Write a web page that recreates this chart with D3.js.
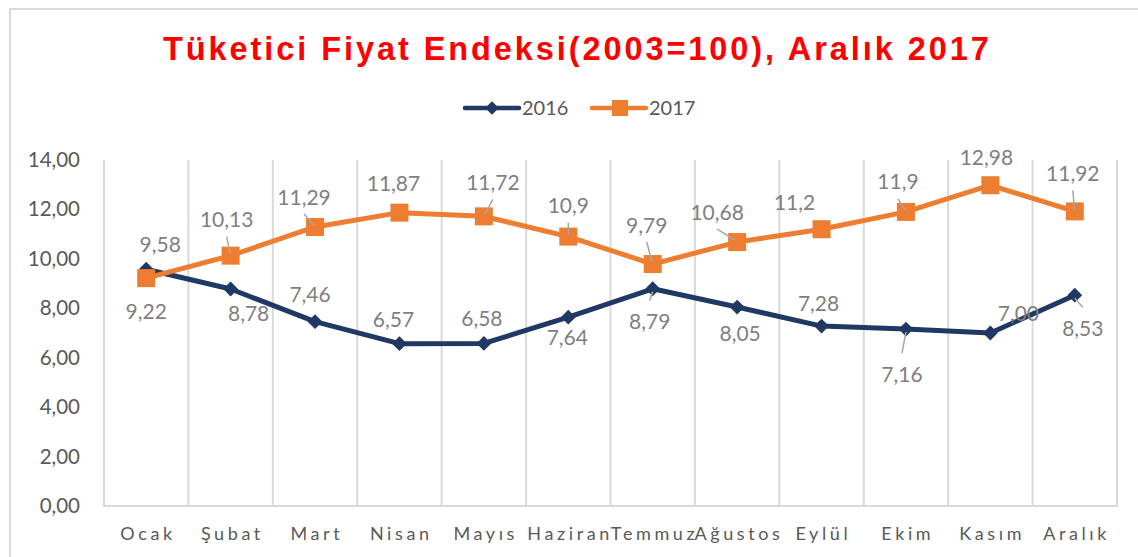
<!DOCTYPE html>
<html>
<head>
<meta charset="utf-8">
<script src="https://cdn.jsdelivr.net/npm/d3@7"></script>
<style>
  html, body { margin: 0; padding: 0; background: #ffffff; }
  svg { display: block; }
</style>
</head>
<body>
<svg id="chart" width="1138" height="557"></svg>
<script>
// ---------------- data ----------------
const months = ["Ocak", "Şubat", "Mart", "Nisan", "Mayıs", "Haziran", "Temmuz", "Ağustos", "Eylül", "Ekim", "Kasım", "Aralık"];
const values2016 = [9.58, 8.78, 7.46, 6.57, 6.58, 7.64, 8.79, 8.05, 7.28, 7.16, 7.00, 8.53];
const values2017 = [9.22, 10.13, 11.29, 11.87, 11.72, 10.9, 9.79, 10.68, 11.2, 11.9, 12.98, 11.92];
const labels2016 = ["9,58", "8,78", "7,46", "6,57", "6,58", "7,64", "8,79", "8,05", "7,28", "7,16", "7,00", "8,53"];
const labels2017 = ["9,22", "10,13", "11,29", "11,87", "11,72", "10,9", "9,79", "10,68", "11,2", "11,9", "12,98", "11,92"];
const yTicks = [0, 2, 4, 6, 8, 10, 12, 14];
const seriesNames = ["2016", "2017"];
const titleText = "Tüketici Fiyat Endeksi(2003=100), Aralık 2017";

// label placement (layout, not data): offset of label centre from its point, and leader flag
const offsets2016 = [[14,-25,0],[18,24,0],[-5,-27,0],[-6,-24,0],[-2,-25,0],[-1,20,0],[-3,33,1],[3,26,0],[-3,-23,0],[-4,45,1],[28,-20,0],[8,33,1]];
const offsets2017 = [[0,33,0],[-4,-36,1],[-11,-30,1],[-6,-29,0],[9,-34,1],[0,-31,1],[-6,-39,1],[-20,-30,1],[-27,-27,0],[-8,-30,1],[-4,-28,0],[-2,-38,1]];

// ---------------- layout ----------------
const svg = d3.select("#chart");
const plot = { left: 104, right: 1117, top: 160, bottom: 506 };
const navy = "#203864", orange = "#ed7d31", grid = "#d9d9d9";
const axisText = "#595959", labelText = "#7f7f7f";

const locale = d3.formatLocale({ decimal: ",", thousands: ".", grouping: [3], currency: ["", "₺"] });
const fmt = locale.format(".2f");

const x = d3.scaleBand().domain(months).range([plot.left, plot.right]).paddingInner(0).paddingOuter(0);
const y = d3.scaleLinear().domain([0, 14]).range([plot.bottom, plot.top]);
const cx = m => x(m) + x.bandwidth() / 2;

// outer frame
svg.append("rect").attr("x", 10).attr("y", 9).attr("width", 1150).attr("height", 600)
  .attr("fill", "none").attr("stroke", grid).attr("stroke-width", 2);

// title: letter-spaced, horizontally condensed to the reference width
const titleG = svg.append("g");
const title = titleG.append("text").attr("x", 0).attr("y", 0).attr("text-anchor", "start")
  .attr("font-family", "Liberation Sans, Arial, sans-serif").attr("font-weight", "bold")
  .attr("font-size", 33).attr("letter-spacing", "3px").attr("fill", "#ff0000")
  .text(titleText);
const tw = title.node().getComputedTextLength() - 3;
const targetW = 826, titleLeft = 163;
titleG.attr("transform", `translate(${titleLeft},60) scale(${targetW / tw},1)`);

// legend
const legend = svg.append("g").attr("font-family", "Lato, sans-serif").attr("font-size", 20).attr("fill", axisText);
const legendItems = [
  { name: seriesNames[0], color: navy, x0: 465, shape: "diamond" },
  { name: seriesNames[1], color: orange, x0: 592, shape: "square" }
];
legendItems.forEach(it => {
  legend.append("line").attr("x1", it.x0).attr("x2", it.x0 + 54).attr("y1", 108).attr("y2", 108)
    .attr("stroke", it.color).attr("stroke-width", 4.5).attr("stroke-linecap", "round");
  if (it.shape === "diamond") {
    legend.append("path").attr("d", d3.symbol(d3.symbolDiamond2, 120)())
      .attr("transform", `translate(${it.x0 + 27},108)`).attr("fill", it.color);
  } else {
    legend.append("rect").attr("x", it.x0 + 20).attr("y", 100).attr("width", 16).attr("height", 16).attr("fill", it.color);
  }
  legend.append("text").attr("x", it.x0 + 57).attr("y", 108).attr("dy", "0.36em").text(it.name);
});

// vertical gridlines at category boundaries
const edges = months.map(m => x(m)).concat([plot.right]);
svg.append("g").selectAll("line").data(edges).join("line")
  .attr("x1", d => d).attr("x2", d => d).attr("y1", plot.top).attr("y2", plot.bottom)
  .attr("stroke", grid).attr("stroke-width", 2);
// baseline
svg.append("line").attr("x1", plot.left - 1).attr("x2", plot.right + 1).attr("y1", plot.bottom).attr("y2", plot.bottom)
  .attr("stroke", grid).attr("stroke-width", 2);

// y axis
const yAxis = svg.append("g").attr("transform", `translate(${plot.left},0)`)
  .call(d3.axisLeft(y).tickValues(yTicks).tickFormat(fmt).tickSize(0).tickPadding(24));
yAxis.select(".domain").remove();
yAxis.selectAll("text").attr("font-family", "Lato, sans-serif").attr("font-size", 20.5).attr("fill", axisText);

// x axis labels
const xAxis = svg.append("g").attr("transform", `translate(0,${plot.bottom})`)
  .call(d3.axisBottom(x).tickSize(0).tickPadding(21));
xAxis.select(".domain").remove();
xAxis.selectAll("text").attr("font-family", "Lato, sans-serif").attr("font-size", 18)
  .attr("fill", axisText).attr("letter-spacing", "3.6px").attr("dx", "1.8px");

// lines
const line = d3.line().x((d, i) => cx(months[i])).y(d => y(d));
svg.append("path").datum(values2016).attr("d", line).attr("fill", "none")
  .attr("stroke", navy).attr("stroke-width", 5).attr("stroke-linejoin", "round");
svg.append("g").selectAll("path").data(values2016).join("path")
  .attr("d", d3.symbol(d3.symbolDiamond2, 140)())
  .attr("transform", (d, i) => `translate(${cx(months[i])},${y(d)})`).attr("fill", navy);

svg.append("path").datum(values2017).attr("d", line).attr("fill", "none")
  .attr("stroke", orange).attr("stroke-width", 5).attr("stroke-linejoin", "round");
svg.append("g").selectAll("rect").data(values2017).join("rect")
  .attr("x", (d, i) => cx(months[i]) - 9).attr("y", d => y(d) - 9)
  .attr("width", 18).attr("height", 18).attr("fill", orange);

// data labels + leader lines
function drawLabels(vals, labs, offs) {
  const g = svg.append("g");
  vals.forEach((v, i) => {
    const px = cx(months[i]), py = y(v);
    const [dx, dy, leader] = offs[i];
    const lx = px + dx, ly = py + dy;
    if (leader) {
      let x1, y1, x2, y2;
      if (dy < 0) { x1 = lx; y1 = ly + 17; x2 = px - 0.1 * (px - lx); y2 = py - 2; }
      else { x1 = px; y1 = py + 3; x2 = lx; y2 = ly - 21; }
      g.append("line").attr("x1", x1).attr("y1", y1).attr("x2", x2).attr("y2", y2)
        .attr("stroke", "#a6a6a6").attr("stroke-width", 1.5);
    }
    g.append("text").attr("x", lx).attr("y", ly).attr("dy", "0.36em").attr("text-anchor", "middle")
      .attr("font-family", "Lato, sans-serif").attr("font-size", 21).attr("fill", labelText).text(labs[i]);
  });
}
drawLabels(values2016, labels2016, offsets2016);
drawLabels(values2017, labels2017, offsets2017);
</script>
</body>
</html>
